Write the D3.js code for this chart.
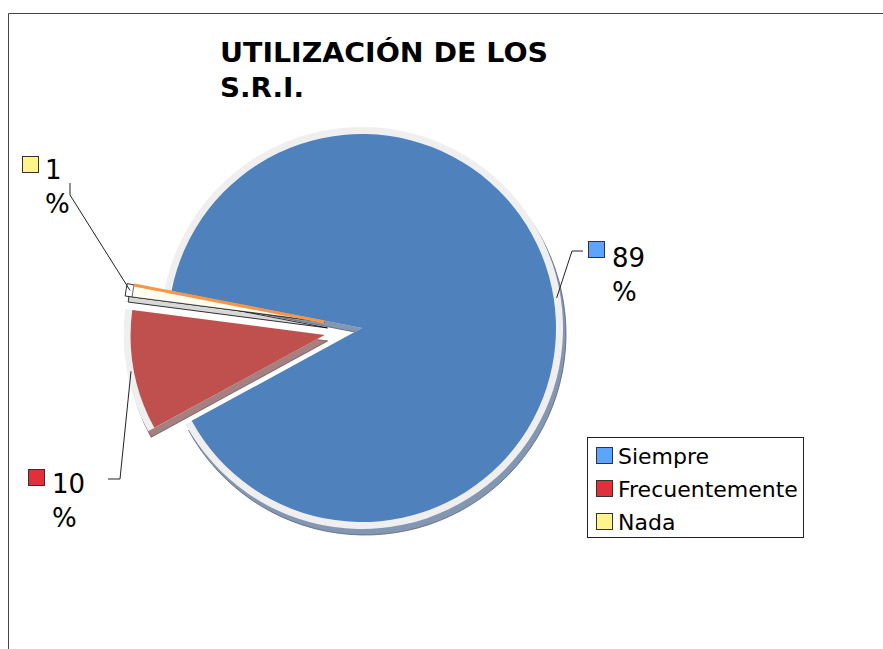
<!DOCTYPE html>
<html lang="es">
<head>
    <meta charset="UTF-8">
    <title>Utilización de los S.R.I.</title>
    <script src="https://d3js.org/d3.v7.min.js"></script>
    <style>
        body { margin: 0; background: #fff; }
        svg { display: block; font-family: "DejaVu Sans", Verdana, sans-serif; }
    </style>
</head>
<body>
    <div id="chart"></div>

    <script>
        // Data
        var categories = ["Siempre", "Frecuentemente", "Nada"];
        var values = [89, 10, 1];
        var pctLabels = ["89", "10", "1"];

        // Colours
        var sliceColors = ["#4f81bd", "#c0504d", "#fffdf0"];
        var shadeColors = ["#8397b2", "#a67f80", "#d8d8d8"];
        var keyColors = ["#5ba5ff", "#e0303a", "#fff48c"];

        var width = 883, height = 649;
        var cx = 362, cy = 328, radius = 194, explode = 38;

        var svg = d3.select("#chart")
                    .append("svg")
                    .attr("width", width)
                    .attr("height", height);

        // chart frame
        svg.append("path")
           .attr("d", "M8.5," + height + "V13.5H" + width)
           .attr("fill", "none")
           .attr("stroke", "#444")
           .attr("stroke-width", 1);

        // title
        var title = svg.append("text")
           .attr("x", 220)
           .attr("font-size", 26)
           .attr("font-weight", "bold")
           .attr("fill", "#000");
        title.append("tspan").attr("x", 220).attr("y", 62)
             .attr("textLength", 328).attr("lengthAdjust", "spacingAndGlyphs")
             .text("UTILIZACIÓN DE LOS");
        title.append("tspan").attr("x", 220).attr("y", 97)
             .attr("textLength", 84).attr("lengthAdjust", "spacingAndGlyphs")
             .text("S.R.I.");

        var toRad = Math.PI / 180;
        var pie = d3.pie().sort(null).value(function(d) { return d; })
                    .startAngle(-79 * toRad).endAngle(281 * toRad);
        var slices = pie(values);

        var arc = d3.arc().innerRadius(0).outerRadius(radius);
        var rimArc = d3.arc().innerRadius(0).outerRadius(radius + 7);
        var leaderArc = d3.arc().innerRadius(radius + 3).outerRadius(radius + 3);

        // offset of each slice (the first one stays in place)
        function offset(d) {
            if (d.index === 0) return [0, 0];
            var a = (d.startAngle + d.endAngle) / 2;
            return [explode * Math.sin(a), -explode * Math.cos(a)];
        }

        var g = svg.append("g").attr("transform", "translate(" + cx + "," + cy + ")");

        var groups = g.selectAll("g.slice")
                      .data(slices)
                      .enter()
                      .append("g")
                      .attr("class", "slice")
                      .attr("transform", function(d) {
                          var o = offset(d);
                          return "translate(" + o[0] + "," + o[1] + ")";
                      });

        // 3D side (shifted dark copy)
        groups.append("path")
              .attr("d", rimArc)
              .attr("transform", "translate(3,6)")
              .attr("fill", function(d, i) { return shadeColors[i]; })
              .attr("stroke", function(d, i) { return i === 2 ? "#000" : d3.color(shadeColors[i]).darker(1.2); })
              .attr("stroke-width", 0.8);

        // light rim
        groups.append("path")
              .attr("d", rimArc)
              .attr("fill", function(d, i) { return i === 2 ? "#fff" : "#efefef"; })
              .attr("stroke", function(d, i) { return i === 2 ? "#000" : "none"; })
              .attr("stroke-width", 0.8);

        // face
        groups.append("path")
              .attr("d", arc)
              .attr("fill", function(d, i) { return sliceColors[i]; })
              .attr("stroke", function(d, i) { return i === 2 ? "#000" : "none"; })
              .attr("stroke-width", 0.6);

        // orange top edge of the thin slice
        groups.filter(function(d) { return d.index === 2; })
              .append("line")
              .attr("x1", 0).attr("y1", 0)
              .attr("x2", function(d) { return radius * Math.sin(d.endAngle); })
              .attr("y2", function(d) { return -radius * Math.cos(d.endAngle); })
              .attr("stroke", "#f79646")
              .attr("stroke-width", 3);

        // data labels with leader lines
        var labelPos = [
            { elbow: [572, 251], end: [583, 251], box: [588, 241], text: [612, 267] },
            { elbow: [120, 479], end: [108, 479], box: [28, 469], text: [52, 493] },
            { elbow: [70, 195], end: [70, 183], box: [22, 156], text: [45, 179] }
        ];

        slices.forEach(function(d, i) {
            var o = offset(d);
            var c = leaderArc.centroid(d);
            var p = labelPos[i];
            var start = [cx + o[0] + c[0], cy + o[1] + c[1]];
            svg.append("path")
               .attr("d", d3.line()([start, p.elbow, p.end]))
               .attr("fill", "none")
               .attr("stroke", "#222")
               .attr("stroke-width", 1);
            svg.append("rect")
               .attr("x", p.box[0] + 0.5).attr("y", p.box[1] + 0.5)
               .attr("width", 16).attr("height", 16)
               .attr("fill", keyColors[i])
               .attr("stroke", "#333");
            var t = svg.append("text")
                       .attr("font-size", 26)
                       .attr("fill", "#000");
            t.append("tspan").attr("x", p.text[0]).attr("y", p.text[1]).text(pctLabels[i]);
            t.append("tspan").attr("x", p.text[0]).attr("y", p.text[1] + 34).text("%");
        });

        // legend
        var legend = svg.append("g").attr("transform", "translate(587,437)");
        legend.append("rect")
              .attr("x", 0.5).attr("y", 0.5)
              .attr("width", 216).attr("height", 100)
              .attr("fill", "#fff")
              .attr("stroke", "#222");
        var items = legend.selectAll("g.item")
                          .data(categories)
                          .enter()
                          .append("g")
                          .attr("class", "item")
                          .attr("transform", function(d, i) { return "translate(9," + (10 + i * 33) + ")"; });
        items.append("rect")
             .attr("x", 0.5).attr("y", 0.5)
             .attr("width", 16).attr("height", 16)
             .attr("fill", function(d, i) { return keyColors[i]; })
             .attr("stroke", "#333");
        items.append("text")
             .attr("x", 22).attr("y", 17)
             .attr("font-size", 22)
             .attr("fill", "#000")
             .text(function(d) { return d; });
    </script>
</body>
</html>
